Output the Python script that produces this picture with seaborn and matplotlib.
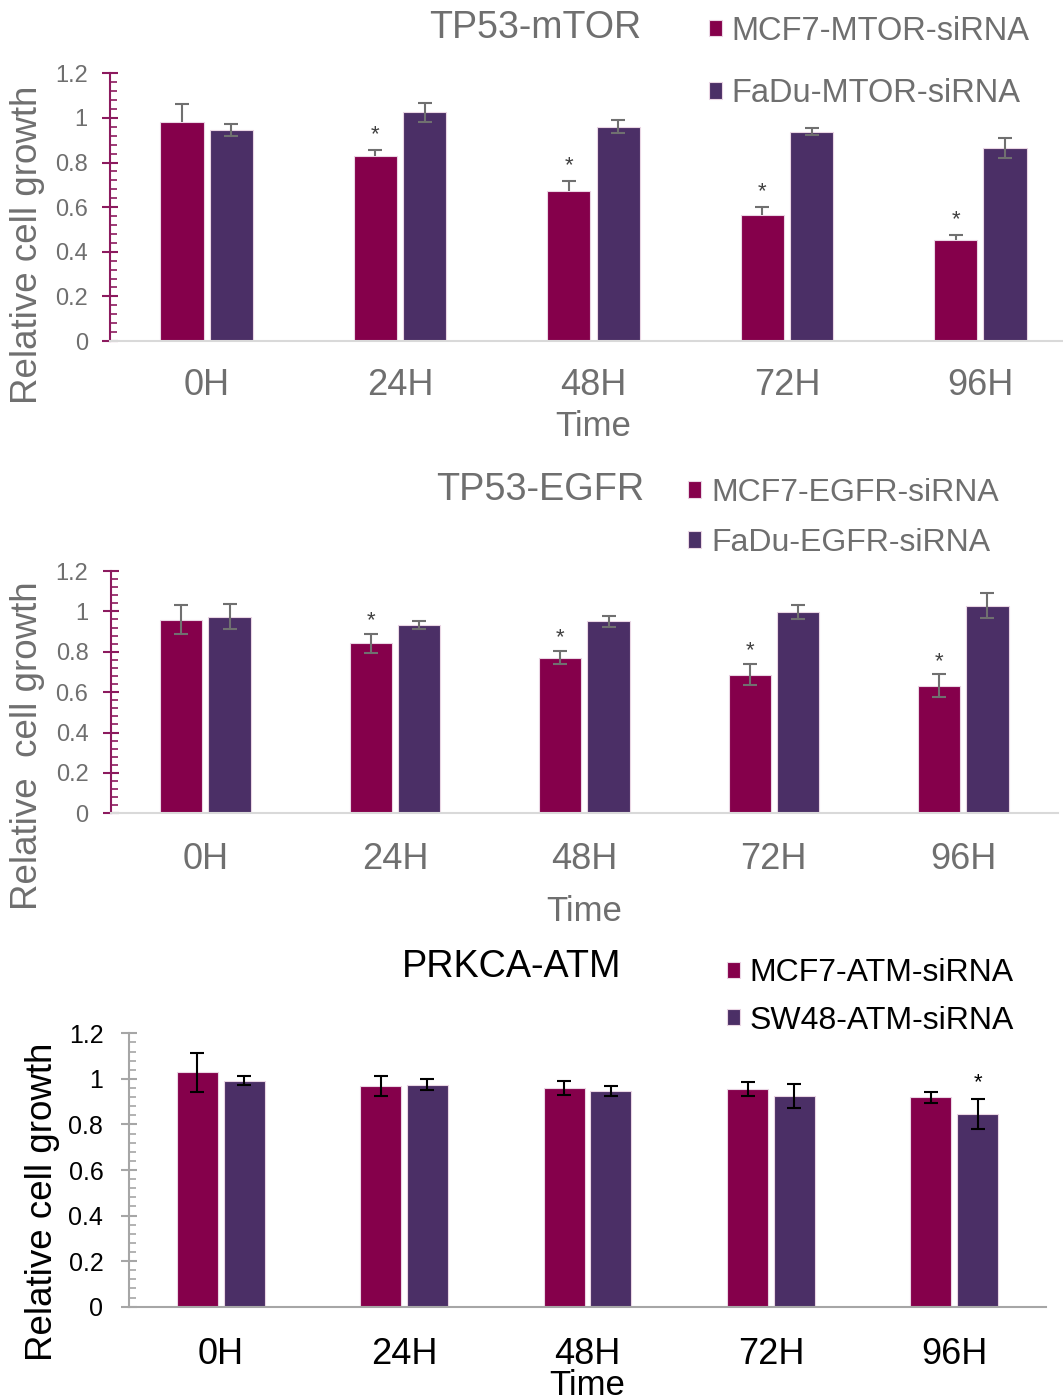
import numpy as np
import pandas as pd
import matplotlib.pyplot as plt
from matplotlib.ticker import MultipleLocator
import seaborn as sns

# Time points shared by all three panels
times = ['0H', '24H', '48H', '72H', '96H']

# TP53-mTOR panel
mtor_labels = ['MCF7-MTOR-siRNA', 'FaDu-MTOR-siRNA']
mtor_mcf7 = [0.983, 0.830, 0.671, 0.565, 0.454]
mtor_mcf7_err = [0.078, 0.025, 0.045, 0.035, 0.020]
mtor_fadu = [0.945, 1.025, 0.961, 0.939, 0.865]
mtor_fadu_err = [0.028, 0.043, 0.029, 0.015, 0.046]
mtor_stars = [False, True, True, True, True]

# TP53-EGFR panel
egfr_labels = ['MCF7-EGFR-siRNA', 'FaDu-EGFR-siRNA']
egfr_mcf7 = [0.959, 0.842, 0.771, 0.687, 0.631]
egfr_mcf7_err = [0.073, 0.048, 0.033, 0.051, 0.057]
egfr_fadu = [0.974, 0.933, 0.951, 0.996, 1.028]
egfr_fadu_err = [0.061, 0.020, 0.026, 0.034, 0.061]
egfr_stars = [False, True, True, True, True]

# PRKCA-ATM panel
atm_labels = ['MCF7-ATM-siRNA', 'SW48-ATM-siRNA']
atm_mcf7 = [1.029, 0.969, 0.959, 0.957, 0.919]
atm_mcf7_err = [0.086, 0.044, 0.032, 0.031, 0.024]
atm_sw48 = [0.992, 0.975, 0.947, 0.924, 0.847]
atm_sw48_err = [0.021, 0.026, 0.023, 0.054, 0.066]
atm_stars = [False, False, False, False, True]

no_stars = [False] * 5

MCF7_COLOR = '#85004B'
OTHER_COLOR = '#4B2F66'
GREY = '#6F6F6F'

sns.set_style('white')
plt.rcParams['font.family'] = ['Liberation Sans', 'DejaVu Sans']

W, H = 1063, 1397
fig = plt.figure(figsize=(W / 100, H / 100), dpi=100)


# Convert pixel box into figure fraction
def px_axes(left, top, right, bottom):
    return fig.add_axes([left / W, 1 - bottom / H, (right - left) / W, (bottom - top) / H])


def panel(ax, labels, a, a_err, b, b_err, stars_a, stars_b, ink, spine, base, err_color,
          plus_only_a, ypad, xpad, ylab, ylab_pos, time_pad, ytick_size):
    df = pd.DataFrame({'Time': times * 2,
                       'Line': [labels[0]] * 5 + [labels[1]] * 5,
                       'Growth': a + b})
    sns.barplot(data=df, x='Time', y='Growth', hue='Line', palette=[MCF7_COLOR, OTHER_COLOR],
                saturation=1, width=0.51, gap=0.125, edgecolor='#EAD6E4', linewidth=0.8,
                errorbar=None, ax=ax)

    # Error bars and significance stars on top of each bar
    for cont, vals, errs, stars, plus_only in zip(ax.containers, [a, b], [a_err, b_err],
                                                   [stars_a, stars_b], [plus_only_a, False]):
        xs = [p.get_x() + p.get_width() / 2 for p in cont]
        errs = np.array(errs)
        yerr = [np.zeros_like(errs), errs] if plus_only else errs
        _, caps, _ = ax.errorbar(xs, vals, yerr=yerr, fmt='none', ecolor=err_color,
                                 elinewidth=1.5, capsize=5, capthick=1.5, zorder=3)
        if plus_only:
            caps[0].set_visible(False)
        for x, v, e, s in zip(xs, vals, errs, stars):
            if s:
                ax.annotate('*', xy=(x, v + e + 0.1), xytext=(0, -9), textcoords='offset points',
                            ha='center', va='baseline', fontsize=16,
                            color='#404040' if ink == GREY else ink)

    ax.set_xlim(-0.5, 4.5)
    ax.set_ylim(0, 1.2)
    ax.set_yticks(np.arange(0, 1.21, 0.2))
    ax.set_yticklabels([f'{t:g}' for t in np.round(np.arange(0, 1.21, 0.2), 1)])
    ax.yaxis.set_minor_locator(MultipleLocator(0.04))
    ax.tick_params(axis='y', which='major', direction='inout', length=11, width=1.5, color=spine,
                   labelsize=ytick_size, labelcolor=ink, pad=ypad, left=True)
    ax.tick_params(axis='y', which='minor', direction='in', length=5, width=1.2, color=spine, left=True)
    ax.tick_params(axis='x', length=0, labelsize=26, labelcolor=ink, pad=xpad)
    for side in ['top', 'right']:
        ax.spines[side].set_visible(False)
    ax.spines['left'].set_color(spine)
    ax.spines['left'].set_linewidth(1.5)
    ax.spines['bottom'].set_color(base)
    ax.spines['bottom'].set_linewidth(1.5)

    ax.set_xlabel('Time', fontsize=25, color=ink, labelpad=time_pad)
    ax.set_ylabel(ylab, fontsize=26.5, color=ink)
    ax.yaxis.set_label_coords(*ylab_pos)
    ax.get_legend().remove()


# Top panel
ax1 = px_axes(110, 73.3, 1077, 341)
panel(ax1, mtor_labels, mtor_mcf7, mtor_mcf7_err, mtor_fadu, mtor_fadu_err, mtor_stars, no_stars,
      GREY, '#8C1A5E', '#D9D9D9', '#707070', True, 10.5, 19.5,
      'Relative cell growth', (-0.067, 0.358), 5, 17)
fig.text(535 / W, 1 - 28 / H, 'TP53-mTOR', fontsize=27, color=GREY, ha='center', va='center')
h, l = ax1.get_legend_handles_labels()
fig.legend(h, mtor_labels, loc='center left', bbox_to_anchor=(709 / W, 1 - 62.5 / H), frameon=False,
           fontsize=23.5, labelcolor=GREY, handlelength=0.4, handleheight=0.4, handletextpad=0.3,
           labelspacing=0.96, borderpad=0, borderaxespad=0)

# Middle panel
ax2 = px_axes(110.7, 571, 1058, 813.3)
panel(ax2, egfr_labels, egfr_mcf7, egfr_mcf7_err, egfr_fadu, egfr_fadu_err, egfr_stars, no_stars,
      GREY, '#8C1A5E', '#D9D9D9', '#707070', False, 10.5, 21,
      'Relative  cell growth', (-0.069, 0.28), 12.5, 17)
fig.text(540 / W, 1 - 490 / H, 'TP53-EGFR', fontsize=27.3, color=GREY, ha='center', va='center')
h, l = ax2.get_legend_handles_labels()
fig.legend(h, egfr_labels, loc='center left', bbox_to_anchor=(688 / W, 1 - 518 / H), frameon=False,
           fontsize=23, labelcolor=GREY, handlelength=0.42, handleheight=0.42, handletextpad=0.3,
           labelspacing=0.62, borderpad=0, borderaxespad=0)

# Bottom panel
ax3 = px_axes(129, 1033.3, 1046, 1306.7)
panel(ax3, atm_labels, atm_mcf7, atm_mcf7_err, atm_sw48, atm_sw48_err, no_stars, atm_stars,
      'black', '#A6A6A6', '#A6A6A6', 'black', False, 13, 22,
      'Relative cell growth', (-0.075, 0.384), -2, 18)
fig.text(512 / W, 1 - 967 / H, 'PRKCA-ATM', fontsize=27.2, color='black', ha='center', va='center')
h, l = ax3.get_legend_handles_labels()
fig.legend(h, atm_labels, loc='center left', bbox_to_anchor=(727 / W, 1 - 997 / H), frameon=False,
           fontsize=23, labelcolor='black', handlelength=0.4, handleheight=0.4, handletextpad=0.3,
           labelspacing=0.54, borderpad=0, borderaxespad=0)

fig.savefig('out.png', dpi=100)
